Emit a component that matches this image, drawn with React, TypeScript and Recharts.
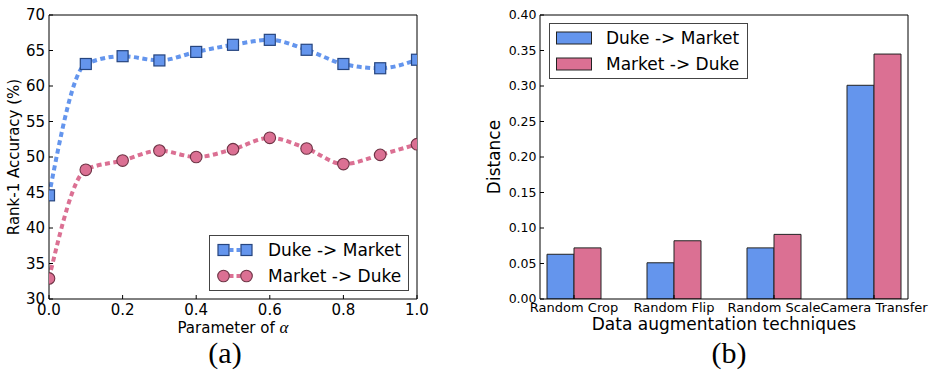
import React from 'react';
import { LineChart, Line, BarChart, Bar, XAxis, YAxis, Legend } from 'recharts';

// (a) rank-1 accuracy vs alpha
const alphas = [0, 0.1, 0.2, 0.3, 0.4, 0.5, 0.6, 0.7, 0.8, 0.9, 1.0];
const dukeToMarketAcc = [44.6, 63.1, 64.2, 63.6, 64.8, 65.8, 66.5, 65.1, 63.1, 62.5, 63.7];
const marketToDukeAcc = [32.9, 48.2, 49.5, 50.9, 50.0, 51.1, 52.7, 51.2, 49.0, 50.3, 51.8];
const accTicks = [30, 35, 40, 45, 50, 55, 60, 65, 70];
const alphaTicks = [0, 0.2, 0.4, 0.6, 0.8, 1.0];

// (b) distance per augmentation technique
const techniques = ['Random Crop', 'Random Flip', 'Random Scale', 'Camera Transfer'];
const dukeToMarketDist = [0.063, 0.051, 0.072, 0.301];
const marketToDukeDist = [0.072, 0.082, 0.091, 0.345];
const distTicks = [0, 0.05, 0.1, 0.15, 0.2, 0.25, 0.3, 0.35, 0.4];

const seriesNames = ['Duke -> Market', 'Market -> Duke'];

const BLUE = '#6495ED';
const PINK = '#DB7093';
const FONT = '"DejaVu Sans", sans-serif';

const lineData = alphas.map((a, i) => ({
  alpha: a,
  d2m: dukeToMarketAcc[i],
  m2d: marketToDukeAcc[i],
}));

const barData = techniques.map((t, i) => ({
  pos: i,
  name: t,
  d2m: dukeToMarketDist[i],
  m2d: marketToDukeDist[i],
}));

const squareDot = (props: any) => {
  const { cx, cy, index } = props;
  if (cx == null || cy == null) return <g key={`sq-${index}`} />;
  return (
    <rect key={`sq-${index}`} x={cx - 5.5} y={cy - 5.5} width={11} height={11}
      fill={BLUE} stroke="#26457f" strokeWidth={1.2} />
  );
};

const circleDot = (props: any) => {
  const { cx, cy, index } = props;
  if (cx == null || cy == null) return <g key={`ci-${index}`} />;
  return <circle key={`ci-${index}`} cx={cx} cy={cy} r={5.8} fill={PINK} stroke="#6e3345" strokeWidth={1.1} />;
};

// x label with a math-style italic alpha
const alphaLabel = (props: any) => {
  const vb = props.viewBox || {};
  const x = vb.x + vb.width / 2;
  const y = vb.y + vb.height - 6;
  return (
    <text x={x} y={y} textAnchor="middle" fill="#000" fontSize={15} fontFamily={FONT}>
      Parameter of{' '}
      <tspan fontFamily='"Liberation Serif", serif' fontStyle="italic" fontSize={17}>α</tspan>
    </text>
  );
};

const LineLegend = () => (
  <div style={{
    width: 200, height: 56, boxSizing: 'border-box', border: '1.3px solid #444', background: '#fff',
    fontFamily: FONT, fontSize: 17, color: '#000', position: 'relative',
  }}>
    {seriesNames.map((name, i) => (
      <div key={name} style={{ position: 'absolute', left: 7, top: i === 0 ? 1 : 27, height: 26, display: 'flex', alignItems: 'center' }}>
        <svg width={37} height={14} style={{ marginRight: 14 }}>
          <line x1={11} y1={7} x2={25} y2={7} stroke={i === 0 ? BLUE : PINK} strokeWidth={4} strokeDasharray="4 3" strokeDashoffset={-1.5} />
          {i === 0 ? (
            <>
              <rect x={1} y={1.5} width={11} height={11} fill={BLUE} stroke="#26457f" strokeWidth={1.2} />
              <rect x={24} y={1.5} width={11} height={11} fill={BLUE} stroke="#26457f" strokeWidth={1.2} />
            </>
          ) : (
            <>
              <circle cx={6.5} cy={7} r={5.8} fill={PINK} stroke="#6e3345" strokeWidth={1.1} />
              <circle cx={29.5} cy={7} r={5.8} fill={PINK} stroke="#6e3345" strokeWidth={1.1} />
            </>
          )}
        </svg>
        <span style={{ whiteSpace: 'nowrap' }}>{name}</span>
      </div>
    ))}
  </div>
);

const BarLegend = () => (
  <div style={{
    width: 199, height: 56, boxSizing: 'border-box', border: '1.3px solid #444', background: '#fff',
    fontFamily: FONT, fontSize: 17, color: '#000', position: 'relative',
  }}>
    {seriesNames.map((name, i) => (
      <div key={name} style={{ position: 'absolute', left: 6, top: i === 0 ? 1 : 27, height: 26, display: 'flex', alignItems: 'center' }}>
        <svg width={37} height={14} style={{ marginRight: 13 }}>
          <rect x={0.5} y={1} width={35} height={12} fill={i === 0 ? BLUE : PINK} stroke="#222" strokeWidth={1} />
        </svg>
        <span style={{ whiteSpace: 'nowrap' }}>{name}</span>
      </div>
    ))}
  </div>
);

const caption: React.CSSProperties = {
  position: 'absolute', top: 338, fontFamily: '"Liberation Serif", serif', fontSize: 30,
  lineHeight: '30px', transform: 'translateX(-50%)', color: '#000', whiteSpace: 'nowrap',
};

export default function App() {
  return (
    <div style={{ position: 'absolute', left: 0, top: 0, width: 936, height: 372, background: '#fff', fontFamily: FONT }}>
      <div style={{ position: 'absolute', left: 0, top: 0 }}>
        <LineChart width={470} height={372} data={lineData} margin={{ top: 14, right: 52, bottom: 33, left: 9 }}>
          <XAxis dataKey="alpha" type="number" domain={[0, 1]} ticks={alphaTicks} interval={0} allowDataOverflow
            tickFormatter={(v: number) => v.toFixed(1)} height={40} stroke="#000" tickSize={-4} tickMargin={9}
            tick={{ fill: '#000', fontSize: 15, fontFamily: FONT }}
            label={{ content: alphaLabel }} />
          <XAxis xAxisId="top" orientation="top" type="number" domain={[0, 1]} ticks={alphaTicks} allowDataOverflow
            height={1} stroke="#000" tickSize={-4} tick={false} />
          <YAxis type="number" domain={[30, 70]} ticks={accTicks} interval={0} allowDataOverflow width={40}
            stroke="#000" tickSize={-4} tickMargin={8} tick={{ fill: '#000', fontSize: 15, fontFamily: FONT }}
            label={{ value: 'Rank-1 Accuracy (%)', angle: -90, position: 'insideLeft', offset: 5, style: { textAnchor: 'middle', fill: '#000', fontSize: 15, fontFamily: FONT } }} />
          <YAxis yAxisId="right" orientation="right" type="number" domain={[30, 70]} ticks={accTicks} allowDataOverflow
            width={1} stroke="#000" tickSize={-4} tick={false} />
          <Line dataKey="d2m" name={seriesNames[0]} type="monotone" stroke={BLUE} strokeWidth={4} strokeDasharray="5 3.5"
            dot={squareDot} activeDot={false} isAnimationActive={false} />
          <Line dataKey="m2d" name={seriesNames[1]} type="monotone" stroke={PINK} strokeWidth={4} strokeDasharray="5 3.5"
            dot={circleDot} activeDot={false} isAnimationActive={false} />
          <Legend layout="vertical" align="center" verticalAlign="middle" content={() => <LineLegend />}
            wrapperStyle={{ left: 209, top: 235, width: 200, height: 56 }} />
        </LineChart>
      </div>
      <div style={{ position: 'absolute', left: 470, top: 0 }}>
        <BarChart width={466} height={372} data={barData} barGap={0} margin={{ top: 14, right: 27, bottom: 33, left: 20 }}>
          <XAxis dataKey="pos" type="number" domain={[-0.34, 3.34]} ticks={[0, 1, 2, 3]} interval={0} allowDataOverflow
            tickFormatter={(v: number) => techniques[v] ?? ''} height={40} stroke="#000" tickSize={-4} tickMargin={8}
            tick={{ fill: '#000', fontSize: 13, fontFamily: FONT }}
            label={{ value: 'Data augmentation techniques', position: 'insideBottom', offset: 9, style: { fill: '#000', fontSize: 17, fontFamily: FONT } }} />
          <XAxis xAxisId="top" orientation="top" type="number" domain={[-0.34, 3.34]} ticks={[0, 1, 2, 3]} allowDataOverflow
            height={1} stroke="#000" tickSize={-4} tick={false} />
          <YAxis type="number" domain={[0, 0.4]} ticks={distTicks} interval={0} allowDataOverflow width={50}
            tickFormatter={(v: number) => v.toFixed(2)} stroke="#000" tickSize={-4} tickMargin={7.5}
            tick={{ fill: '#000', fontSize: 12.5, fontFamily: FONT }}
            label={{ value: 'Distance', angle: -90, position: 'insideLeft', offset: 4, style: { textAnchor: 'middle', fill: '#000', fontSize: 17, fontFamily: FONT } }} />
          <YAxis yAxisId="right" orientation="right" type="number" domain={[0, 0.4]} ticks={distTicks} allowDataOverflow
            width={1} stroke="#000" tickSize={-4} tick={false} />
          <Bar dataKey="d2m" name={seriesNames[0]} fill={BLUE} stroke="#222" strokeWidth={1} barSize={27} isAnimationActive={false} />
          <Bar dataKey="m2d" name={seriesNames[1]} fill={PINK} stroke="#222" strokeWidth={1} barSize={27} isAnimationActive={false} />
          <Legend layout="vertical" align="center" verticalAlign="middle" content={() => <BarLegend />}
            wrapperStyle={{ left: 79, top: 23, width: 199, height: 56 }} />
        </BarChart>
      </div>
      <div style={{ ...caption, left: 225 }}>(a)</div>
      <div style={{ ...caption, left: 729 }}>(b)</div>
    </div>
  );
}
